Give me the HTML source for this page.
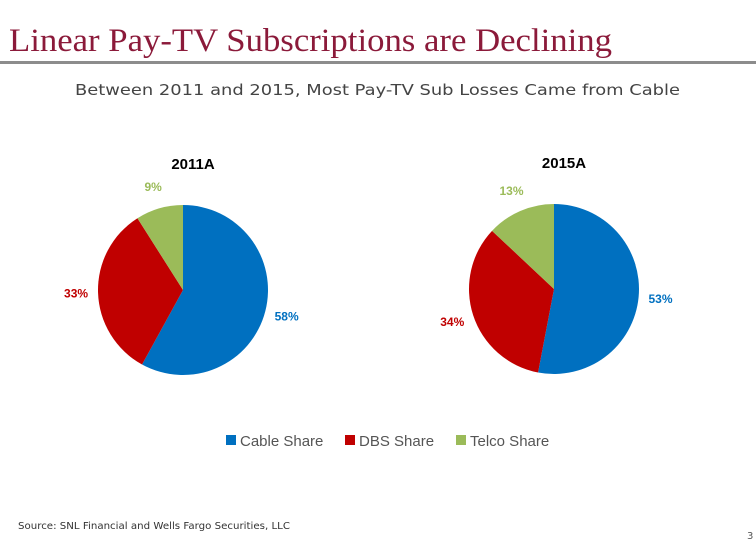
<!DOCTYPE html>
<html><head><meta charset="utf-8"><style>
html,body{margin:0;padding:0;background:#fff;}
svg{display:block;}
</style></head><body>
<svg id="chart" width="756" height="540" viewBox="0 0 756 540" xmlns="http://www.w3.org/2000/svg">
  <text x="9" y="51" font-family="Liberation Serif, serif" font-size="33" fill="#8b1a3a" textLength="603" lengthAdjust="spacingAndGlyphs">Linear Pay-TV Subscriptions are Declining</text>
  <rect x="0" y="61" width="756" height="3" fill="#8c8c8c"/>
  <text x="75" y="95" font-family="DejaVu Sans, sans-serif" font-size="15" fill="#444" textLength="605" lengthAdjust="spacingAndGlyphs">Between 2011 and 2015, Most Pay-TV Sub Losses Came from Cable</text>
  <g id="pies"></g>
  <g id="legend"></g>
  <text x="18" y="529" font-family="DejaVu Sans, sans-serif" font-size="10" fill="#333" textLength="272" lengthAdjust="spacingAndGlyphs">Source: SNL Financial and Wells Fargo Securities, LLC</text>
  <text x="747" y="539" font-family="DejaVu Sans, sans-serif" font-size="10" fill="#555">3</text>
</svg>
<script>
const years = ["2011A", "2015A"];
const series = ["Cable Share", "DBS Share", "Telco Share"];
const colors = ["#0070c0", "#c00000", "#9bbb59"];
const cable = [58, 53];
const dbs = [33, 34];
const telco = [9, 13];

const NS = "http://www.w3.org/2000/svg";
const pies = document.getElementById("pies");
const legend = document.getElementById("legend");
const centers = [[183, 290], [554, 289]];
const R = 85;

function pt(cx, cy, r, frac) {
  const a = frac * 2 * Math.PI;
  return [cx + r * Math.sin(a), cy - r * Math.cos(a)];
}

years.forEach((yr, i) => {
  const [cx, cy] = centers[i];
  const vals = [cable[i], dbs[i], telco[i]];
  const total = vals.reduce((a, b) => a + b, 0);
  const t = document.createElementNS(NS, "text");
  t.setAttribute("x", cx + 10);
  t.setAttribute("y", cy - 121);
  t.setAttribute("text-anchor", "middle");
  t.setAttribute("font-family", "Liberation Sans, sans-serif");
  t.setAttribute("font-size", "15");
  t.setAttribute("font-weight", "bold");
  t.setAttribute("fill", "#000");
  t.textContent = yr;
  
  
  pies.appendChild(t);
  let acc = 0;
  vals.forEach((v, j) => {
    const f0 = acc / total, f1 = (acc + v) / total;
    const p0 = pt(cx, cy, R, f0), p1 = pt(cx, cy, R, f1);
    const large = (f1 - f0) > 0.5 ? 1 : 0;
    const p = document.createElementNS(NS, "path");
    p.setAttribute("d", `M${cx},${cy} L${p0[0]},${p0[1]} A${R},${R} 0 ${large} 1 ${p1[0]},${p1[1]} Z`);
    p.setAttribute("fill", colors[j]);
    
    
    pies.appendChild(p);
    const mid = (f0 + f1) / 2;
    const lp = pt(cx, cy, R + 22, mid);
    const l = document.createElementNS(NS, "text");
    l.setAttribute("x", lp[0]);
    l.setAttribute("y", lp[1] + 4);
    l.setAttribute("text-anchor", "middle");
    l.setAttribute("font-family", "Liberation Sans, sans-serif");
    l.setAttribute("font-size", "12");
    l.setAttribute("font-weight", "bold");
    l.setAttribute("fill", colors[j]);
    l.textContent = v + "%";
    
    
    pies.appendChild(l);
    acc += v;
  });
});

const legX = [226, 345, 456];
series.forEach((s, j) => {
  const g = document.createElementNS(NS, "g");
  
  
  const r = document.createElementNS(NS, "rect");
  r.setAttribute("x", legX[j]); r.setAttribute("y", 435);
  r.setAttribute("width", 10); r.setAttribute("height", 10);
  r.setAttribute("fill", colors[j]);
  g.appendChild(r);
  const t = document.createElementNS(NS, "text");
  t.setAttribute("x", legX[j] + 14); t.setAttribute("y", 446);
  t.setAttribute("font-family", "Liberation Sans, sans-serif");
  t.setAttribute("font-size", "15");
  t.setAttribute("fill", "#555");
  t.textContent = s;
  g.appendChild(t);
  legend.appendChild(g);
});
</script>
</body></html>
